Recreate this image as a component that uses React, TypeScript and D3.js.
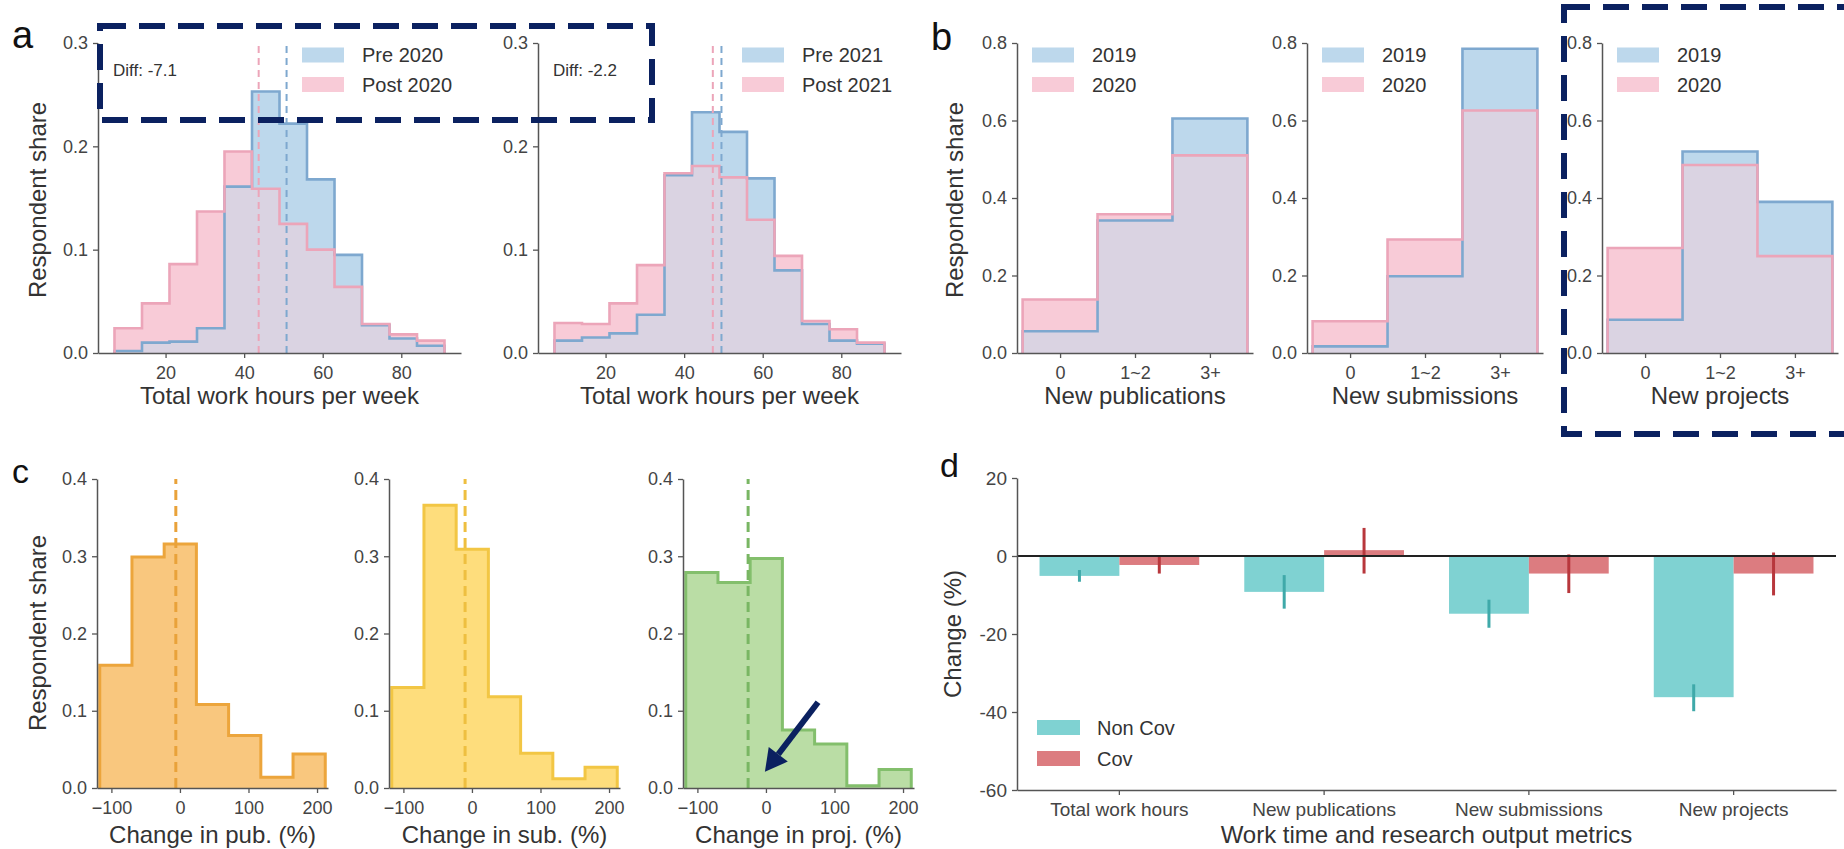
import React, { useRef, useEffect } from 'react';
import * as d3 from 'd3';

// a: total weekly work hours, share of respondents per bin
const hourEdges = [7, 14, 21, 28, 35, 42, 49, 56, 63, 70, 77, 84, 91];
const pre2020 = [0.002, 0.010, 0.011, 0.024, 0.161, 0.253, 0.222, 0.168, 0.095, 0.027, 0.014, 0.007];
const post2020 = [0.024, 0.048, 0.086, 0.137, 0.195, 0.159, 0.125, 0.100, 0.064, 0.028, 0.018, 0.012];
const pre2021 = [0.012, 0.015, 0.019, 0.037, 0.172, 0.233, 0.214, 0.169, 0.080, 0.028, 0.012, 0.009];
const post2021 = [0.029, 0.028, 0.048, 0.085, 0.174, 0.181, 0.170, 0.129, 0.094, 0.031, 0.023, 0.010];
const hourMeans2020 = [50.8, 43.7];
const hourMeans2021 = [49.5, 47.3];
const hourLegend2020 = ['Pre 2020', 'Post 2020'];
const hourLegend2021 = ['Pre 2021', 'Post 2021'];
const diffLabels = ['Diff: -7.1', 'Diff: -2.2'];
const hourTicks = [20, 40, 60, 80];
const shareTicksA = [0, 0.1, 0.2, 0.3];

// b: research output counts
const outputCats = ['0', '1~2', '3+'];
const outputLegend = ['2019', '2020'];
const pubs2019 = [0.056, 0.342, 0.605];
const pubs2020 = [0.138, 0.358, 0.510];
const subs2019 = [0.017, 0.198, 0.785];
const subs2020 = [0.082, 0.293, 0.626];
const proj2019 = [0.086, 0.520, 0.390];
const proj2020 = [0.271, 0.485, 0.250];
const outputTitles = ['New publications', 'New submissions', 'New projects'];
const shareTicksB = [0, 0.2, 0.4, 0.6, 0.8];

// c: relative change per respondent
const changeEdges = [-117, -70, -23, 24, 71, 118, 165, 212];
const pubChange = [0.159, 0.299, 0.316, 0.108, 0.068, 0.014, 0.044];
const subChange = [0.130, 0.366, 0.309, 0.118, 0.045, 0.012, 0.027];
const projChange = [0.279, 0.266, 0.297, 0.075, 0.057, 0.003, 0.024];
const changeMeans = [-6, -10, -26];
const changeTitles = ['Change in pub. (%)', 'Change in sub. (%)', 'Change in proj. (%)'];
const changeTicks = [-100, 0, 100, 200];
const shareTicksC = [0, 0.1, 0.2, 0.3, 0.4];

// d: estimated change, non-covid vs covid researchers
const metrics = ['Total work hours', 'New publications', 'New submissions', 'New projects'];
const groups = ['Non Cov', 'Cov'];
const nonCov = [-5.1, -9.2, -14.8, -36.2];
const nonCovLo = [-6.6, -13.5, -18.4, -39.8];
const nonCovHi = [-3.6, -4.9, -11.2, -32.9];
const cov = [-2.3, 1.5, -4.5, -4.5];
const covLo = [-4.5, -4.5, -9.5, -10.1];
const covHi = [-0.2, 7.2, 0.4, 0.9];
const changeTicksD = [20, 0, -20, -40, -60];

const W = 1844;
const H = 849;
const FONT = '"Liberation Sans", Arial, Helvetica, sans-serif';
const NAVY = '#0b2160';

const BLUE_FILL = '#bdd8ec';
const PINK_FILL = '#f8cbd7';
const MIX_FILL = '#dad3e2';
const BLUE_LINE = '#7ea8cf';
const PINK_LINE = '#eca5b9';

const App = () => {
  const svgRef = useRef(null);

  useEffect(() => {
    const svg = d3.select(svgRef.current);
    svg.selectAll('*').remove();
    svg.append('rect').attr('width', W).attr('height', H).attr('fill', '#fff');

    const label = (x, y, str, size, anchor = 'middle', fill = '#333') =>
      svg.append('text')
        .attr('x', x).attr('y', y)
        .attr('font-size', size).attr('text-anchor', anchor)
        .attr('fill', fill).text(str);

    const yTitle = (x, y, str) =>
      svg.append('text')
        .attr('transform', `translate(${x},${y}) rotate(-90)`)
        .attr('text-anchor', 'middle').attr('dy', '0.35em')
        .attr('font-size', 24).attr('fill', '#333').text(str);

    const axes = (x, y, xTicks, xFmt, yTicks, yFmt, size = 18) => {
      const ax = svg.append('g')
        .attr('transform', `translate(0,${y.range()[0]})`)
        .call(d3.axisBottom(x).tickValues(xTicks).tickFormat(xFmt).tickSize(5).tickSizeOuter(0).tickPadding(8));
      const ay = svg.append('g')
        .attr('transform', `translate(${x.range()[0]},0)`)
        .call(d3.axisLeft(y).tickValues(yTicks).tickFormat(yFmt).tickSize(5).tickSizeOuter(0).tickPadding(5));
      [ax, ay].forEach(a => {
        a.attr('font-family', FONT).attr('font-size', size).attr('color', '#555');
        a.select('.domain').attr('stroke-width', 1.5);
        a.selectAll('.tick line').attr('stroke-width', 1.3);
        a.selectAll('.tick text').attr('fill', '#444');
      });
    };

    const stepPts = (edges, vals) =>
      [...vals.map((v, i) => [edges[i], v]), [edges[vals.length], vals[vals.length - 1]]];
    const outlinePts = (edges, vals) =>
      [[edges[0], 0], ...stepPts(edges, vals), [edges[vals.length], 0]];

    const hist = (x, y, edges, vals, fill, stroke, width) => {
      const area = d3.area().x(d => x(d[0])).y0(y(0)).y1(d => y(d[1])).curve(d3.curveStepAfter);
      const line = d3.line().x(d => x(d[0])).y(d => y(d[1])).curve(d3.curveStepAfter);
      if (fill) svg.append('path').attr('d', area(stepPts(edges, vals))).attr('fill', fill);
      if (stroke) {
        svg.append('path').attr('d', line(outlinePts(edges, vals)))
          .attr('fill', 'none').attr('stroke', stroke).attr('stroke-width', width)
          .attr('stroke-linejoin', 'miter');
      }
    };

    const pair = (x, y, edges, a, b) => {
      const both = a.map((v, i) => Math.min(v, b[i]));
      hist(x, y, edges, a, BLUE_FILL, null, 0);
      hist(x, y, edges, b, PINK_FILL, null, 0);
      hist(x, y, edges, both, MIX_FILL, null, 0);
      hist(x, y, edges, a, null, BLUE_LINE, 2.6);
      hist(x, y, edges, b, null, PINK_LINE, 2.6);
    };

    const legend = (x0, names, dx) => {
      [BLUE_FILL, PINK_FILL].forEach((c, i) => {
        const cy = 55 + i * 29.5;
        svg.append('rect').attr('x', x0 + dx).attr('y', cy - 7.5)
          .attr('width', 42).attr('height', 15).attr('fill', c);
        label(x0 + dx + 60, cy, names[i], 20, 'start').attr('dy', '0.35em');
      });
    };

    // ---- panel a
    const hourPanels = [
      { x0: 98, pre: pre2020, post: post2020, means: hourMeans2020, names: hourLegend2020, diff: diffLabels[0] },
      { x0: 538, pre: pre2021, post: post2021, means: hourMeans2021, names: hourLegend2021, diff: diffLabels[1] },
    ];
    hourPanels.forEach(p => {
      const x = d3.scaleLinear().domain([2.8, 95.2]).range([p.x0, p.x0 + 363]);
      const y = d3.scaleLinear().domain([0, 0.3]).range([353, 43]);
      pair(x, y, hourEdges, p.pre, p.post);
      [BLUE_LINE, PINK_LINE].forEach((c, i) => {
        svg.append('line')
          .attr('x1', x(p.means[i])).attr('x2', x(p.means[i]))
          .attr('y1', y(0)).attr('y2', y(0.3))
          .attr('stroke', c).attr('stroke-width', 2).attr('stroke-dasharray', '7 5');
      });
      axes(x, y, hourTicks, d3.format('d'), shareTicksA, d3.format('.1f'));
      legend(p.x0, p.names, 204);
      label(p.x0 + 15, 70, p.diff, 17, 'start').attr('dy', '0.35em');
      label((x.range()[0] + x.range()[1]) / 2, 404, 'Total work hours per week', 24);
    });
    yTitle(38, 200, 'Respondent share');

    // ---- panel b
    const outputPanels = [
      { r: [1017, 1253], a: pubs2019, b: pubs2020 },
      { r: [1307, 1543], a: subs2019, b: subs2020 },
      { r: [1602, 1838], a: proj2019, b: proj2020 },
    ];
    const catEdges = [-0.5, 0.5, 1.5, 2.5];
    outputPanels.forEach((p, k) => {
      const x = d3.scaleLinear().domain([-0.575, 2.575]).range(p.r);
      const y = d3.scaleLinear().domain([0, 0.8]).range([353, 43]);
      pair(x, y, catEdges, p.a, p.b);
      axes(x, y, outputCats.map((_, i) => i), i => outputCats[i], shareTicksB, d3.format('.1f'));
      legend(p.r[0], outputLegend, 15);
      label((p.r[0] + p.r[1]) / 2, 404, outputTitles[k], 24);
    });
    yTitle(955, 200, 'Respondent share');

    // ---- panel c
    const changePanels = [
      { r: [97, 328], vals: pubChange, fill: '#f9c77e', stroke: '#eca53c', dash: '#e9a23a' },
      { r: [389, 620], vals: subChange, fill: '#fedd7c', stroke: '#f2c644', dash: '#eebf40' },
      { r: [683, 914], vals: projChange, fill: '#badda5', stroke: '#83bf6c', dash: '#79b663' },
    ];
    let projX = null;
    let projY = null;
    changePanels.forEach((p, k) => {
      const x = d3.scaleLinear().domain([-121, 216]).range(p.r);
      const y = d3.scaleLinear().domain([0, 0.4]).range([788, 479]);
      hist(x, y, changeEdges, p.vals, p.fill, p.stroke, 3);
      svg.append('line')
        .attr('x1', x(changeMeans[k])).attr('x2', x(changeMeans[k]))
        .attr('y1', y(0)).attr('y2', y(0.4))
        .attr('stroke', p.dash).attr('stroke-width', 3).attr('stroke-dasharray', '10 6');
      axes(x, y, changeTicks, d3.format('d'), shareTicksC, d3.format('.1f'));
      label((p.r[0] + p.r[1]) / 2, 843, changeTitles[k], 24);
      if (k === 2) { projX = x; projY = y; }
    });
    yTitle(38, 633, 'Respondent share');

    // arrow pointing at the projects mean
    const tail = [projX(76), projY(0.111)];
    const tip = [projX(-1.5), projY(0.021)];
    const dx = tip[0] - tail[0];
    const dy = tip[1] - tail[1];
    const len = Math.hypot(dx, dy);
    const u = [dx / len, dy / len];
    const base = [tip[0] - 22 * u[0], tip[1] - 22 * u[1]];
    svg.append('line')
      .attr('x1', tail[0]).attr('y1', tail[1]).attr('x2', base[0]).attr('y2', base[1])
      .attr('stroke', NAVY).attr('stroke-width', 6);
    svg.append('polygon')
      .attr('points', [tip, [base[0] - 12 * u[1], base[1] + 12 * u[0]], [base[0] + 12 * u[1], base[1] - 12 * u[0]]]
        .map(q => q.join(',')).join(' '))
      .attr('fill', NAVY);

    // ---- panel d
    const x = d3.scaleBand().domain(metrics).range([1017, 1836]).paddingInner(0.22).paddingOuter(0.11);
    const xg = d3.scaleBand().domain(groups).range([0, x.bandwidth()]);
    const y = d3.scaleLinear().domain([-60, 20]).range([790, 478]);
    const series = [
      { vals: nonCov, lo: nonCovLo, hi: nonCovHi, fill: '#7fd2d2', err: '#3fa9a9' },
      { vals: cov, lo: covLo, hi: covHi, fill: '#dc7c80', err: '#b8373c' },
    ];
    series.forEach((s, j) => {
      metrics.forEach((m, i) => {
        const bx = x(m) + xg(groups[j]);
        svg.append('rect')
          .attr('x', bx).attr('width', xg.bandwidth())
          .attr('y', y(Math.max(0, s.vals[i])))
          .attr('height', Math.abs(y(s.vals[i]) - y(0)))
          .attr('fill', s.fill);
      });
    });
    series.forEach((s, j) => {
      metrics.forEach((m, i) => {
        const cx = x(m) + xg(groups[j]) + xg.bandwidth() / 2;
        svg.append('line')
          .attr('x1', cx).attr('x2', cx).attr('y1', y(s.lo[i])).attr('y2', y(s.hi[i]))
          .attr('stroke', s.err).attr('stroke-width', 3);
      });
    });
    svg.append('line')
      .attr('x1', x.range()[0]).attr('x2', x.range()[1])
      .attr('y1', y(0)).attr('y2', y(0))
      .attr('stroke', '#222').attr('stroke-width', 2);
    axes(x, y, metrics, d => d, changeTicksD, d => String(d), 19);
    series.forEach((s, j) => {
      const cy = 727.5 + j * 31;
      svg.append('rect').attr('x', 1037).attr('y', cy - 7.5).attr('width', 43).attr('height', 15).attr('fill', s.fill);
      label(1097, cy, groups[j], 20, 'start').attr('dy', '0.35em');
    });
    label((x.range()[0] + x.range()[1]) / 2, 843, 'Work time and research output metrics', 24);
    yTitle(953, 634, 'Change (%)');

    // panel letters
    label(12, 48, 'a', 38, 'start', '#111');
    label(931, 50, 'b', 38, 'start', '#111');
    label(12, 483, 'c', 34, 'start', '#111');
    label(940, 477, 'd', 34, 'start', '#111');

    // highlight boxes
    svg.append('rect').attr('x', 100).attr('y', 26).attr('width', 552).attr('height', 94)
      .attr('fill', 'none').attr('stroke', NAVY).attr('stroke-width', 6).attr('stroke-dasharray', '26 13');
    svg.append('rect').attr('x', 1564).attr('y', 7).attr('width', 400).attr('height', 427)
      .attr('fill', 'none').attr('stroke', NAVY).attr('stroke-width', 6).attr('stroke-dasharray', '26 13');
  }, []);

  return (
    <svg
      ref={svgRef}
      width={W}
      height={H}
      fontFamily={FONT}
      style={{ position: 'absolute', left: 0, top: 0, display: 'block' }}
    />
  );
};

export default App;
